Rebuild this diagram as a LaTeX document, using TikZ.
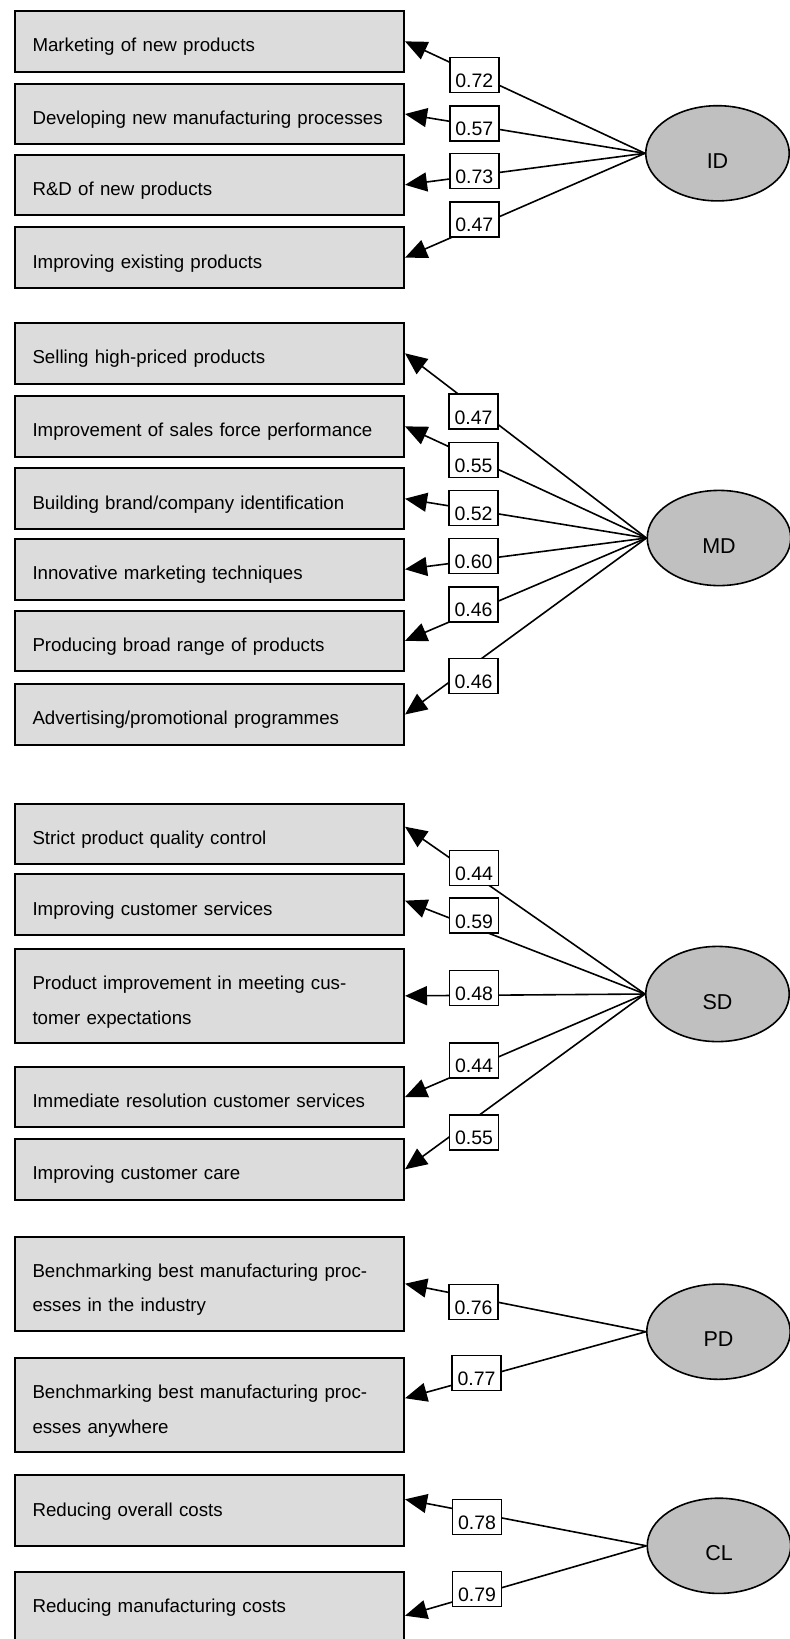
\documentclass[tikz,border=0pt]{standalone}
\usepackage{fontspec}
\setmainfont{Liberation Sans}
\usetikzlibrary{shapes.geometric,arrows.meta}

\definecolor{boxgray}{HTML}{DCDCDC}
\definecolor{ellgray}{HTML}{C0C0C0}

\begin{document}
\begin{tikzpicture}[x=1pt,y=-1pt,
    item/.style={rectangle,draw,line width=2pt,fill=boxgray,anchor=west,
        minimum width=389.5pt,minimum height=60.5pt,text width=353.5pt,inner xsep=18pt,
        align=left,text height=20.7pt,text depth=0pt,font=\fontsize{18.7}{34.7}\selectfont},
    tall/.style={minimum height=94.3pt,text depth=33.8pt},
    cost/.style={minimum height=71pt,text depth=10.3pt},
    factor/.style={ellipse,draw,line width=1.6pt,fill=ellgray,minimum width=143.5pt,
        minimum height=95.2pt,inner sep=0pt,text height=30pt,text depth=0pt,
        font=\fontsize{21.5}{24}\selectfont},
    weight/.style={rectangle,draw,line width=1.8pt,fill=white,minimum width=49pt,
        minimum height=35pt,inner sep=0pt,text height=25pt,text depth=0pt,
        font=\fontsize{19.5}{20}\selectfont},
    load/.style={line width=1.6pt,-{Triangle[length=22pt,width=19pt]}}]
    \useasboundingbox (0,0) rectangle (790,1639);

    % innovation
    \node[item] (I1) at (13.5,41.35) {Marketing of new products};
    \node[item] (I2) at (13.5,114) {Developing new manufacturing processes};
    \node[item] (I3) at (13.5,184.85) {R\&D of new products};
    \node[item] (I4) at (13.5,257.7) {Improving existing products};
    \node[factor] (ID) at (717.5,153.3) {ID};

    % marketing
    \node[item] (M1) at (13.5,353.3) {Selling high-priced products};
    \node[item] (M2) at (13.5,426.35) {Improvement of sales force performance};
    \node[item] (M3) at (13.5,498.7) {Building brand/company identification};
    \node[item] (M4) at (13.5,569.3) {Innovative marketing techniques};
    \node[item] (M5) at (13.5,640.85) {Producing broad range of products};
    \node[item] (M6) at (13.5,714.5) {Advertising/promotional programmes};
    \node[factor] (MD) at (719,538) {MD};

    % service
    \node[item] (S1) at (13.5,834.2) {Strict product quality control};
    \node[item] (S2) at (13.5,904.65) {Improving customer services};
    \node[item,tall] (S3) at (13.5,995.85) {Product improvement in meeting cus-\\tomer expectations};
    \node[item] (S4) at (13.5,1097) {Immediate resolution customer services};
    \node[item] (S5) at (13.5,1169.3) {Improving customer care};
    \node[factor] (SD) at (717.5,994) {SD};

    % production
    \node[item,tall] (P1) at (13.5,1283.7) {Benchmarking best manufacturing proc-\\esses in the industry};
    \node[item,tall] (P2) at (13.5,1405.2) {Benchmarking best manufacturing proc-\\esses anywhere};
    \node[factor] (PD) at (718.5,1331.7) {PD};

    % cost
    \node[item,cost] (C1) at (13.5,1510.8) {Reducing overall costs};
    \node[item,cost] (C2) at (13.5,1607.2) {Reducing manufacturing costs};
    \node[factor] (CL) at (719,1545.8) {CL};

    \draw[load] (ID.west) -- (I1.east);
    \draw[load] (ID.west) -- (I2.east);
    \draw[load] (ID.west) -- (I3.east);
    \draw[load] (ID.west) -- (I4.east);

    \draw[load] (MD.west) -- (M1.east);
    \draw[load] (MD.west) -- (M2.east);
    \draw[load] (MD.west) -- (M3.east);
    \draw[load] (MD.west) -- (M4.east);
    \draw[load] (MD.west) -- (M5.east);
    \draw[load] (MD.west) -- (M6.east);

    \draw[load] (SD.west) -- ([yshift=7.5pt]S1.east);
    \draw[load] (SD.west) -- ([yshift=4pt]S2.east);
    \draw[load] (SD.west) -- (S3.east);
    \draw[load] (SD.west) -- (S4.east);
    \draw[load] (SD.west) -- (S5.east);

    \draw[load] (PD.west) -- (P1.east);
    \draw[load] (PD.west) -- ([yshift=7pt]P2.east);

    \draw[load] (CL.west) -- ([yshift=11.5pt]C1.east);
    \draw[load] (CL.west) -- ([yshift=-8.5pt]C2.east);

    \node[weight] (wI1) at (474.3,75) {0.72};
    \node[weight] (wI2) at (474.3,123.3) {0.57};
    \node[weight] (wI3) at (474.3,171) {0.73};
    \node[weight] (wI4) at (474.3,219.2) {0.47};

    \node[weight] (wM1) at (473.5,411.7) {0.47};
    \node[weight] (wM2) at (473.5,460) {0.55};
    \node[weight] (wM3) at (473.5,508) {0.52};
    \node[weight] (wM4) at (473.5,556) {0.60};
    \node[weight] (wM5) at (473.5,604.2) {0.46};
    \node[weight] (wM6) at (473.5,676) {0.46};

    \node[weight] (wS1) at (474,868) {0.44};
    \node[weight] (wS2) at (474,915.8) {0.59};
    \node[weight] (wS3) at (474,988) {0.48};
    \node[weight] (wS4) at (474,1060.3) {0.44};
    \node[weight] (wS5) at (474,1132.3) {0.55};

    \node[weight] (wP1) at (473.5,1302) {0.76};
    \node[weight] (wP2) at (476.5,1373) {0.77};

    \node[weight] (wC1) at (477,1517) {0.78};
    \node[weight] (wC2) at (477,1589) {0.79};
\end{tikzpicture}
\end{document}
